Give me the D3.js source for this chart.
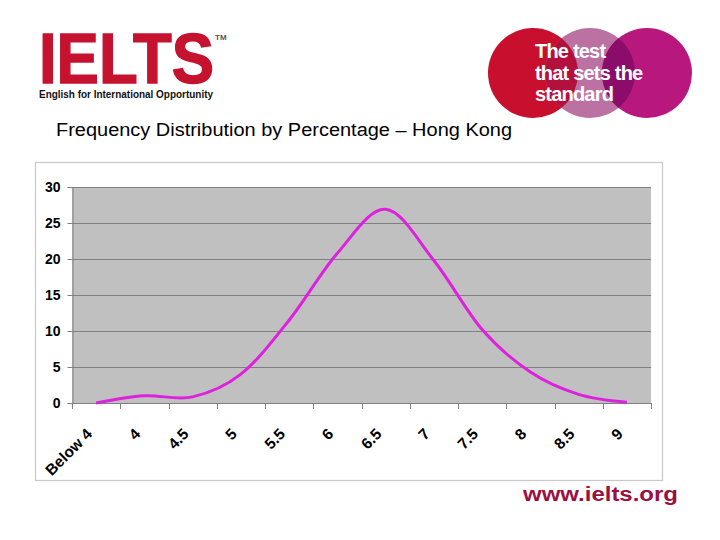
<!DOCTYPE html>
<html lang="en">
<head>
    <meta charset="UTF-8">
    <title>Frequency Distribution by Percentage - Hong Kong</title>
    <script src="https://d3js.org/d3.v7.min.js"></script>
    <style>
        body {
            margin: 0;
            background: #fff;
        }

        svg {
            display: block;
            font-family: "Liberation Sans", Arial, sans-serif;
        }

        .tick-label {
            font-size: 14px;
            font-weight: bold;
            fill: #000;
        }

        .x-label {
            font-size: 15.5px;
            font-weight: bold;
            fill: #000;
        }
    </style>
</head>
<body>
    <script>
        // Band scores and percentage of candidates
        const bands = ["Below 4", "4", "4.5", "5", "5.5", "6", "6.5", "7", "7.5", "8", "8.5", "9"];
        const percentages = [0, 1.0, 0.85, 4.0, 11.5, 20.8, 26.9, 19.8, 10.2, 4.3, 1.2, 0.1];
        const yTicks = [0, 5, 10, 15, 20, 25, 30];

        const width = 720;
        const height = 540;

        const svg = d3.select("body")
            .append("svg")
            .attr("width", width)
            .attr("height", height);

        // IELTS logo
        svg.append("text")
            .attr("x", 39)
            .attr("y", 83)
            .attr("textLength", 175)
            .attr("lengthAdjust", "spacingAndGlyphs")
            .style("font-size", "70px")
            .style("font-weight", "bold")
            .attr("fill", "#c4122f")
            .attr("stroke", "#c4122f")
            .attr("stroke-width", 1.5)
            .text("IELTS");

        svg.append("text")
            .attr("x", 215)
            .attr("y", 40)
            .style("font-size", "8px")
            .style("font-weight", "bold")
            .attr("fill", "#555")
            .text("TM");

        svg.append("text")
            .attr("x", 39)
            .attr("y", 97.5)
            .attr("textLength", 174)
            .attr("lengthAdjust", "spacingAndGlyphs")
            .style("font-size", "10px")
            .style("font-weight", "bold")
            .attr("fill", "#111")
            .text("English for International Opportunity");

        // "The test that sets the standard" circles
        const circles = [
            { cx: 533, fill: "#c8102e" },
            { cx: 590, fill: "#bb72a2" },
            { cx: 647, fill: "#b8187d" }
        ];
        const cy = 73, r = 45;
        const defs = svg.append("defs");
        circles.forEach((c, i) => {
            defs.append("clipPath").attr("id", "clip" + i)
                .append("circle").attr("cx", c.cx).attr("cy", cy).attr("r", r);
        });
        const logo = svg.append("g");
        circles.forEach(c => {
            logo.append("circle").attr("cx", c.cx).attr("cy", cy).attr("r", r).attr("fill", c.fill);
        });
        // overlaps
        logo.append("circle").attr("cx", circles[1].cx).attr("cy", cy).attr("r", r)
            .attr("clip-path", "url(#clip0)").attr("fill", "#b3103d");
        logo.append("circle").attr("cx", circles[1].cx).attr("cy", cy).attr("r", r)
            .attr("clip-path", "url(#clip2)").attr("fill", "#8c0c6c");

        const slogan = ["The test", "that sets the", "standard"];
        logo.selectAll("text.slogan")
            .data(slogan)
            .enter()
            .append("text")
            .attr("class", "slogan")
            .attr("x", 535)
            .attr("y", (d, i) => 58 + i * 21.5)
            .attr("fill", "#fff")
            .style("font-size", "20px")
            .style("font-weight", "bold")
            .style("letter-spacing", "-0.8px")
            .text(d => d);

        // Title
        svg.append("text")
            .attr("x", 56)
            .attr("y", 136)
            .attr("textLength", 456)
            .attr("lengthAdjust", "spacingAndGlyphs")
            .style("font-size", "18px")
            .attr("fill", "#000")
            .text("Frequency Distribution by Percentage \u2013 Hong Kong");

        // Chart box
        svg.append("rect")
            .attr("x", 35.5)
            .attr("y", 162.5)
            .attr("width", 627)
            .attr("height", 318)
            .attr("fill", "#fff")
            .attr("stroke", "#c8c8c8")
            .attr("stroke-width", 1.2);

        const margin = { left: 72, right: 651, top: 187, bottom: 403 };

        const x = d3.scaleBand()
            .domain(bands)
            .range([margin.left, margin.right])
            .padding(0);

        const y = d3.scaleLinear()
            .domain([0, 30])
            .range([margin.bottom, margin.top]);

        // Plot area
        svg.append("rect")
            .attr("x", margin.left)
            .attr("y", margin.top)
            .attr("width", margin.right - margin.left)
            .attr("height", margin.bottom - margin.top)
            .attr("fill", "#c0c0c0");

        // Gridlines
        svg.append("g")
            .selectAll("line")
            .data(yTicks.filter(d => d > 0))
            .enter()
            .append("line")
            .attr("x1", margin.left)
            .attr("x2", margin.right)
            .attr("y1", d => Math.round(y(d)) + 0.5)
            .attr("y2", d => Math.round(y(d)) + 0.5)
            .attr("stroke", "#808080")
            .attr("stroke-width", 1);

        // Y axis
        const yAxis = svg.append("g")
            .attr("transform", `translate(${margin.left + 0.5},0)`)
            .call(d3.axisLeft(y).tickValues(yTicks).tickSize(5).tickPadding(7));
        yAxis.selectAll("path, line").attr("stroke", "#808080");
        yAxis.selectAll("text").attr("class", "tick-label")
            .style("font-family", "'Liberation Sans', Arial, sans-serif");

        // X axis: ticks at category boundaries
        const xAxis = svg.append("g");
        xAxis.append("line")
            .attr("x1", margin.left)
            .attr("x2", margin.right)
            .attr("y1", margin.bottom + 0.5)
            .attr("y2", margin.bottom + 0.5)
            .attr("stroke", "#808080");
        xAxis.selectAll("line.tk")
            .data(bands.concat(["end"]))
            .enter()
            .append("line")
            .attr("class", "tk")
            .attr("x1", (d, i) => Math.round(margin.left + i * x.bandwidth()) + 0.5)
            .attr("x2", (d, i) => Math.round(margin.left + i * x.bandwidth()) + 0.5)
            .attr("y1", margin.bottom)
            .attr("y2", margin.bottom + 6)
            .attr("stroke", "#808080");

        xAxis.selectAll("text")
            .data(bands)
            .enter()
            .append("text")
            .attr("class", "x-label")
            .attr("text-anchor", "end")
            .attr("transform", d => `translate(${x(d) + x.bandwidth() / 2 - 3},${margin.bottom + 32}) rotate(-45)`)
            .text(d => d);

        // Smoothed line
        const line = d3.line()
            .x((d, i) => x(bands[i]) + x.bandwidth() / 2)
            .y(d => y(d))
            .curve(d3.curveCatmullRom.alpha(0));

        svg.append("path")
            .datum(percentages)
            .attr("fill", "none")
            .attr("stroke", "#dd22dd")
            .attr("stroke-width", 3)
            .attr("stroke-linejoin", "round")
            .attr("d", line);

        // Footer link
        svg.append("text")
            .attr("x", 523)
            .attr("y", 501)
            .attr("textLength", 155)
            .attr("lengthAdjust", "spacingAndGlyphs")
            .style("font-size", "20px")
            .style("font-weight", "bold")
            .attr("fill", "#9b1040")
            .text("www.ielts.org");
    </script>
</body>
</html>
